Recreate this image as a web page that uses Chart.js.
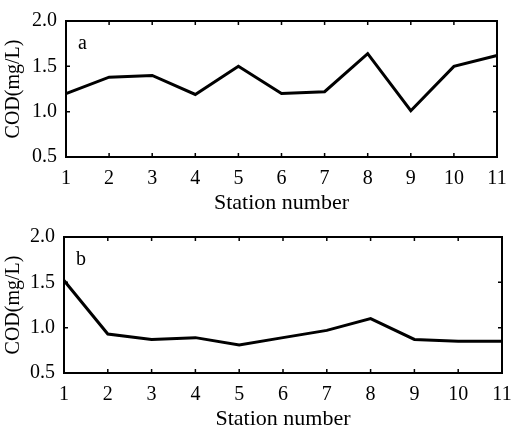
<!doctype html>
<html>
<head>
<script src="https://cdn.jsdelivr.net/npm/chart.js@4/dist/chart.umd.min.js"></script>
<style>
  body { margin: 0; background: #fff; }
  .panel { position: absolute; left: 0; width: 516px; height: 216px; }
</style>
</head>
<body>
<div class="panel" style="top:0"><canvas id="chartA" width="516" height="216"></canvas></div>
<div class="panel" style="top:216px"><canvas id="chartB" width="516" height="216"></canvas></div>
<script>
  // station numbers along the x axis
  const stations = [1, 2, 3, 4, 5, 6, 7, 8, 9, 10, 11];
  // COD (mg/L), panel a and panel b
  const codA = [1.20, 1.38, 1.40, 1.19, 1.50, 1.20, 1.22, 1.64, 1.01, 1.50, 1.62];
  const codB = [1.52, 0.93, 0.87, 0.89, 0.81, 0.89, 0.97, 1.10, 0.87, 0.85, 0.85];
  const yTicks = [0.5, 1.0, 1.5, 2.0];

  const serif = '"Liberation Serif", "Times New Roman", serif';
  Chart.defaults.color = '#000';
  Chart.defaults.font.family = serif;
  Chart.defaults.font.size = 20;

  // matlab-ish box with inward ticks and the panel letter
  const boxTicks = {
    id: 'boxTicks',
    afterDatasetsDraw(chart, args, opts) {
      const { ctx, chartArea: a, scales: { x, y } } = chart;
      const len = 4;
      ctx.save();
      ctx.strokeStyle = '#000';
      ctx.lineWidth = 1.5;
      ctx.beginPath();
      x.ticks.forEach(t => {
        const px = x.getPixelForValue(t.value);
        ctx.moveTo(px, a.bottom); ctx.lineTo(px, a.bottom - len);
        ctx.moveTo(px, a.top); ctx.lineTo(px, a.top + len);
      });
      y.ticks.forEach(t => {
        const py = y.getPixelForValue(t.value);
        ctx.moveTo(a.left, py); ctx.lineTo(a.left + len, py);
        ctx.moveTo(a.right, py); ctx.lineTo(a.right - len, py);
      });
      ctx.stroke();
      ctx.lineWidth = 2;
      ctx.strokeRect(a.left, a.top, a.right - a.left, a.bottom - a.top);
      ctx.fillStyle = '#000';
      ctx.font = '20px ' + serif;
      ctx.textBaseline = 'alphabetic';
      ctx.fillText(opts.tag, a.left + 12, a.top + 28);
      ctx.restore();
    }
  };

  function makeChart(id, values, tag, yWidth, xHeight, pad) {
    return new Chart(document.getElementById(id), {
      type: 'line',
      data: {
        datasets: [{
          data: stations.map((s, i) => ({ x: s, y: values[i] })),
          borderColor: '#000',
          borderWidth: 3,
          pointRadius: 0,
          tension: 0,
          clip: false
        }]
      },
      options: {
        responsive: false,
        animation: false,
        layout: { padding: pad },
        plugins: {
          legend: { display: false },
          tooltip: { enabled: false },
          boxTicks: { tag: tag }
        },
        scales: {
          x: {
            type: 'linear',
            min: 1,
            max: 11,
            afterFit(s) { s.height = xHeight; s.paddingLeft = 0; s.paddingRight = 0; },
            grid: { display: false, drawTicks: false },
            border: { display: false },
            ticks: { stepSize: 1, padding: 10, maxRotation: 0, autoSkip: false },
            title: {
              display: true,
              text: 'Station number',
              font: { size: 22, lineHeight: 1.2 },
              padding: { top: 0, bottom: 0 }
            }
          },
          y: {
            min: 0.5,
            max: 2.0,
            afterFit(s) { s.width = yWidth; },
            afterBuildTicks(s) { s.ticks = yTicks.map(v => ({ value: v })); },
            grid: { display: false, drawTicks: false },
            border: { display: false },
            ticks: { padding: 9, callback: v => v.toFixed(1) },
            title: {
              display: true,
              text: 'COD(mg/L)',
              font: { size: 20, lineHeight: 1.2 },
              padding: { top: 2, bottom: 0 }
            }
          }
        }
      },
      plugins: [boxTicks]
    });
  }

  makeChart('chartA', codA, 'a', 66, 59, { left: 0, right: 19, top: 14, bottom: 0 });
  makeChart('chartB', codB, 'b', 64, 59, { left: 0, right: 14, top: 13, bottom: 0 });
</script>
</body>
</html>
